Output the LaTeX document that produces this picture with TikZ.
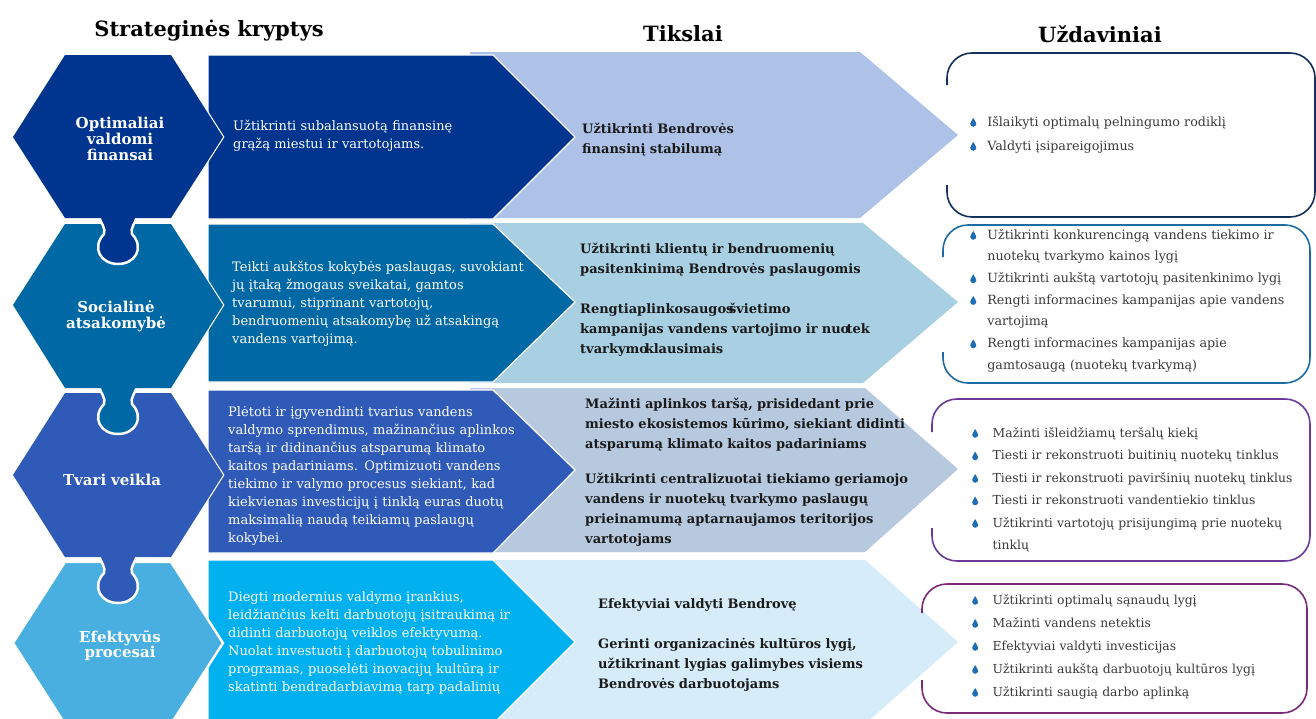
\documentclass[tikz,border=0pt]{standalone}
\usepackage{fontspec}
\setmainfont{DejaVu Serif}
\definecolor{hx1}{HTML}{00358F}
\definecolor{hx2}{HTML}{0068A5}
\definecolor{hx3}{HTML}{2F5AB8}
\definecolor{hx4}{HTML}{48AFE0}
\definecolor{bd4}{HTML}{00B0EF}
\definecolor{lt1}{HTML}{AEC2E8}
\definecolor{lt2}{HTML}{A9CFE3}
\definecolor{lt3}{HTML}{B7C9DF}
\definecolor{lt4}{HTML}{D6ECF8}
\definecolor{bx1}{HTML}{14305E}
\definecolor{bx2}{HTML}{1C6BA4}
\definecolor{bx3}{HTML}{6A3A9C}
\definecolor{bx4}{HTML}{7B2A7A}
\definecolor{dropc}{HTML}{1F6DB4}
\definecolor{goalc}{HTML}{1A1A1A}
\definecolor{taskc}{HTML}{3A3A3A}
\newlength\dgap
\newcommand\wdrop{\tikz[x=1em,y=1em,baseline=0pt]\fill[dropc] (0,0.64) .. controls (0.06,0.46) and (0.24,0.33) .. (0.24,0.18) .. controls (0.24,0.05) and (0.13,-0.06) .. (0,-0.06) .. controls (-0.13,-0.06) and (-0.24,0.05) .. (-0.24,0.18) .. controls (-0.24,0.33) and (-0.06,0.46) .. cycle;}
\newcommand\ditem[1]{\noindent\hangindent=\dgap\hangafter=1\makebox[\dgap][l]{\wdrop}#1\par}
\newcommand\lbr{\hfil\break}
\newcommand\hexagon[4]{\path[#4] (65,#1) -- (171,#1) -- (223,#2) -- (171,#3) -- (65,#3) -- (13,#2) -- cycle;}
\newcommand\knob[2]{\begin{scope}[shift={(0,#1)}]\path[fill=#2, draw=white, line width=2.5pt] (99,-6) -- (99,-2) .. controls (101,6) and (106,10) .. (104,16) .. controls (91,30) and (101,46) .. (118,46) .. controls (135,46) and (145,30) .. (132,16) .. controls (130,10) and (135,6) .. (137,-2) -- (137,-6) -- cycle;\end{scope}}
\tikzset{
  band/.style={fill=#1, draw=white, line width=1.2pt},
  chev/.style={fill=#1},
  bodytxt/.style={anchor=base west, text width=320pt, align=left, text=white, font=\fontsize{13}{18}\selectfont, inner sep=0pt},
  goaltxt/.style={anchor=base west, text width=380pt, align=left, text=goalc, font=\fontsize{13}{20}\selectfont\bfseries, inner sep=0pt},
  hexlbl/.style={anchor=base, text width=150pt, align=center, text=white, font=\fontsize{15}{16}\selectfont\bfseries, inner sep=0pt},
  ttl/.style={anchor=base, font=\fontsize{21}{24}\selectfont\bfseries, inner sep=0pt, text=black},
  taskbox/.style={draw=#1, line width=1.6pt, rounded corners=25pt},
  tasktxt/.style={anchor=base west, text width=345pt, align=left, text=taskc, font=\fontsize{12.7}{22}\selectfont, inner sep=0pt},
}
\begin{document}
\begin{tikzpicture}[x=1pt,y=-1pt]
\useasboundingbox (0,0) rectangle (1316,718);
\clip (0,0) rectangle (1316,718);
\fill[white] (0,0) rectangle (1316,718);
% titles
\node[ttl] (t1) at (209,36) {Strateginės kryptys};
\node[ttl] (t2) at (683,41) {Tikslai};
\node[ttl] (t3) at (1100,42) {Uždaviniai};
% light chevrons
\path[chev=lt1] (470,52) -- (860,52) -- (958,135) -- (860,218) -- (470,218) -- cycle;
\path[chev=lt2] (470,223) -- (863,223) -- (958,302) -- (863,383) -- (470,383) -- cycle;
\path[chev=lt3] (470,388) -- (865,388) -- (958,469) -- (865,552) -- (470,552) -- cycle;
\path[chev=lt4] (470,560) -- (865,560) -- (958,642) -- (865,724) -- (470,724) -- cycle;
% dark bands
\path[band=hx1] (208,55) -- (493,55) -- (575,137) -- (493,219) -- (208,219) -- cycle;
\path[band=hx2] (208,224) -- (493,224) -- (575,302) -- (493,382) -- (208,382) -- cycle;
\path[band=hx3] (208,390) -- (493,390) -- (575,470) -- (493,553) -- (208,553) -- cycle;
\path[band=bd4] (208,560) -- (493,560) -- (575,642) -- (493,724) -- (208,724) -- cycle;
% hexagons and puzzle tabs
\hexagon{562}{643}{724}{fill=hx4, draw=white, line width=2.4pt}
\hexagon{393}{475}{557}{fill=hx3, draw=white, line width=2.4pt}
\knob{557}{hx3}
\hexagon{393}{475}{557}{fill=hx3}
\hexagon{224}{305}{388}{fill=hx2, draw=white, line width=2.4pt}
\knob{388}{hx2}
\hexagon{224}{305}{388}{fill=hx2}
\hexagon{55}{137}{218}{fill=hx1, draw=white, line width=2.4pt}
\knob{218}{hx1}
\hexagon{55}{137}{218}{fill=hx1}
% hexagon labels
\node[hexlbl] (h1) at (120,128) {Optimaliai\\valdomi\\finansai};
\node[hexlbl] (h2) at (116,312) {Socialinė\\atsakomybė};
\node[hexlbl] (h3) at (112,485) {Tvari veikla};
\node[hexlbl, font=\fontsize{15}{14.5}\selectfont\bfseries] (h4) at (120,642) {Efektyvūs\\procesai};
% direction texts
\node[bodytxt] (d1) at (233,130) {Užtikrinti subalansuotą finansinę\\grąžą miestui ir vartotojams.};
\node[bodytxt] (d2) at (232,271) {Teikti aukštos kokybės paslaugas, suvokiant\\jų įtaką žmogaus sveikatai, gamtos\\tvarumui, stiprinant vartotojų,\\bendruomenių atsakomybę už atsakingą\\vandens vartojimą.};
\node[bodytxt] (d3) at (228,416) {Plėtoti ir įgyvendinti tvarius vandens\\valdymo sprendimus, mažinančius aplinkos\\taršą ir didinančius atsparumą klimato\\kaitos padariniams. Optimizuoti vandens\\tiekimo ir valymo procesus siekiant, kad\\kiekvienas investicijų į tinklą euras duotų\\maksimalią naudą teikiamų paslaugų\\kokybei.};
\node[bodytxt] (d4) at (228,601) {Diegti modernius valdymo įrankius,\\leidžiančius kelti darbuotojų įsitraukimą ir\\didinti darbuotojų veiklos efektyvumą.\\Nuolat investuoti į darbuotojų tobulinimo\\programas, puoselėti inovacijų kultūrą ir\\skatinti bendradarbiavimą tarp padalinių};
% goals
\node[goaltxt] (g1) at (582,133) {Užtikrinti Bendrovės\\finansinį stabilumą};
\node[goaltxt] (g2) at (580,253) {Užtikrinti klientų ir bendruomenių\\pasitenkinimą Bendrovės paslaugomis\\[20pt]Rengtiaplinkosaugos\kern-0.35em švietimo\\kampanijas vandens vartojimo ir nu\kern-0.03em o\kern-0.2em tek\\tvarkymo\kern-0.25em klausimais};
\node[goaltxt] (g3) at (585,408) {Mažinti aplinkos taršą, prisidedant prie\\miesto ekosistemos kūrimo, siekiant didinti\\atsparumą klimato kaitos padariniams\\[15pt]Užtikrinti centralizuotai tiekiamo geriamojo\\vandens ir nuotekų tvarkymo paslaugų\\prieinamumą aptarnaujamos teritorijos\\vartotojams};
\node[goaltxt] (g4) at (598,608) {Efektyviai valdyti Bendrovę\\[20pt]Gerinti organizacinės kultūros lygį,\\užtikrinant lygias galimybes visiems\\Bendrovės darbuotojams};
% task boxes
\draw[taskbox=bx1] (947,85) -- (947,53) -- (1315,53) -- (1315,217) -- (947,217) -- (947,185);
\draw[taskbox=bx2] (943,257) -- (943,225) -- (1310,225) -- (1310,383) -- (943,383) -- (943,352);
\draw[taskbox=bx3] (932,432) -- (932,399) -- (1310,399) -- (1310,561) -- (932,561) -- (932,528);
\draw[taskbox=bx4] (922,613) -- (922,584) -- (1307,584) -- (1307,713) -- (922,713) -- (922,680);
\node[tasktxt, font=\fontsize{12.7}{24}\selectfont] (k1) at (970,126) {\dgap=1.35em\ditem{Išlaikyti optimalų pelningumo rodiklį}\ditem{Valdyti įsipareigojimus}};
\node[tasktxt, font=\fontsize{12.7}{21.7}\selectfont] (k2) at (970,239) {\dgap=1.35em\ditem{Užtikrinti konkurencingą vandens tiekimo ir\lbr nuotekų tvarkymo kainos lygį}\ditem{Užtikrinti aukštą vartotojų pasitenkinimo lygį}\ditem{Rengti informacines kampanijas apie vandens\lbr vartojimą}\ditem{Rengti informacines kampanijas apie\lbr gamtosaugą (nuotekų tvarkymą)}};
\node[tasktxt, font=\fontsize{12.4}{22.5}\selectfont] (k3) at (972,437) {\dgap=1.65em\ditem{Mažinti išleidžiamų teršalų kiekį}\ditem{Tiesti ir rekonstruoti buitinių nuotekų tinklus}\ditem{Tiesti ir rekonstruoti paviršinių nuotekų tinklus}\ditem{Tiesti ir rekonstruoti vandentiekio tinklus}\ditem{Užtikrinti vartotojų prisijungimą prie nuotekų\lbr tinklų}};
\node[tasktxt, font=\fontsize{12.4}{23}\selectfont] (k4) at (972,604) {\dgap=1.65em\ditem{Užtikrinti optimalų sąnaudų lygį}\ditem{Mažinti vandens netektis}\ditem{Efektyviai valdyti investicijas}\ditem{Užtikrinti aukštą darbuotojų kultūros lygį}\ditem{Užtikrinti saugią darbo aplinką}};
\end{tikzpicture}
\end{document}
